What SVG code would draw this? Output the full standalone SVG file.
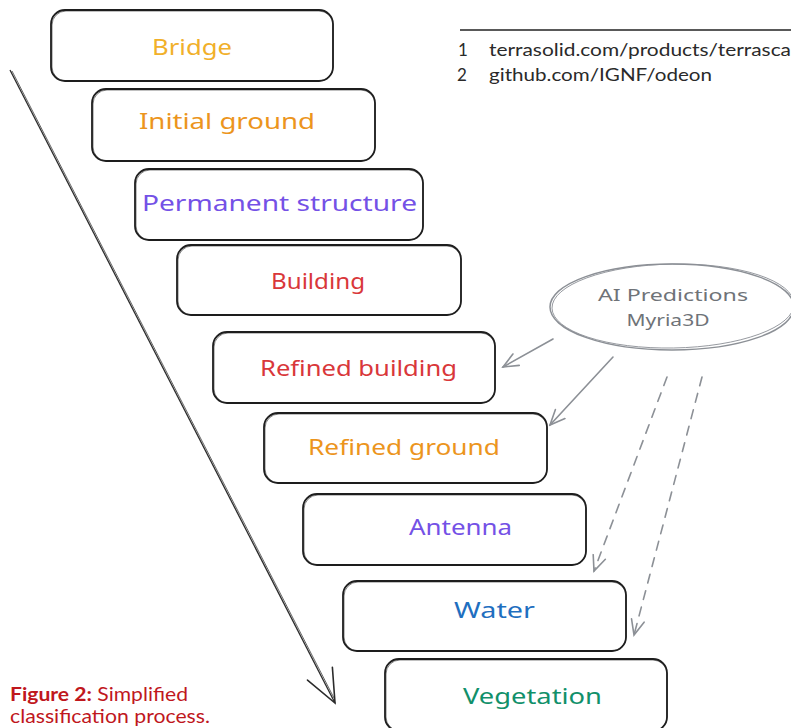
<svg xmlns="http://www.w3.org/2000/svg" width="791" height="728" viewBox="0 0 791 728">
  <style>
    .box { fill: #ffffff; stroke: #1e1e1e; stroke-width: 1.8; }
    .box2 { fill: none; stroke: #1e1e1e; stroke-width: 0.8; opacity: 0.7; }
    .lbl { font-family: "Noto Sans", "DejaVu Sans", sans-serif; font-size: 22px; text-anchor: start; }
    .gray { stroke: #8c9096; stroke-width: 1.6; fill: none; stroke-linecap: round; }
    .dash { stroke-dasharray: 9 8; }
    .note { font-family: Lato, "Liberation Sans", sans-serif; font-size: 17px; fill: #2a2a2a; }
    .cap { font-family: Lato, "Liberation Sans", sans-serif; font-size: 19px; fill: #c0171d; }
  </style>
  <defs>
    <marker id="ga" viewBox="-16 -8 18 16" markerWidth="18" markerHeight="16" refX="0" refY="0" orient="auto" markerUnits="userSpaceOnUse">
      <path d="M -15 -6.5 L 0 0 L -15 6.5" fill="none" stroke="#8c9096" stroke-width="1.6" stroke-linecap="round"/>
    </marker>
    <marker id="ba" viewBox="-36 -16 38 32" markerWidth="38" markerHeight="32" refX="0" refY="0" orient="auto" markerUnits="userSpaceOnUse">
      <path d="M -33 -14 L 0 0 L -33 14" fill="none" stroke="#2b2b2b" stroke-width="1.6" stroke-linecap="round"/>
    </marker>
  </defs>
  <rect width="791" height="728" fill="#ffffff"/>

  <g id="footnotes">
    <line x1="460" y1="30" x2="791" y2="30" stroke="#222" stroke-width="1.3"/>
    <text class="note" x="458" y="56">1</text>
    <text class="note" x="489" y="56" textLength="302" lengthAdjust="spacingAndGlyphs">terrasolid.com/products/terrasca</text>
    <text class="note" x="457" y="81">2</text>
    <text class="note" x="489" y="81" textLength="223" lengthAdjust="spacingAndGlyphs">github.com/IGNF/odeon</text>
  </g>

  <g id="caption">
    <text class="cap" x="10" y="701" textLength="178" lengthAdjust="spacingAndGlyphs"><tspan font-weight="bold">Figure 2:</tspan> Simplified</text>
    <text class="cap" x="10" y="723" textLength="200" lengthAdjust="spacingAndGlyphs">classification process.</text>
  </g>

  <g id="connectors">
    <line x1="10" y1="70" x2="335" y2="703" stroke="#2b2b2b" stroke-width="1.3" marker-end="url(#ba)"/>
    <line x1="12" y1="71" x2="334" y2="698" stroke="#2b2b2b" stroke-width="0.9" opacity="0.8"/>
    <line class="gray" x1="553" y1="339" x2="503" y2="367" marker-end="url(#ga)"/>
    <line class="gray" x1="613" y1="357" x2="550" y2="425" marker-end="url(#ga)"/>
    <line class="gray dash" x1="667" y1="377" x2="594" y2="571" marker-end="url(#ga)"/>
    <line class="gray dash" x1="702" y1="377" x2="634" y2="635" marker-end="url(#ga)"/>
  </g>

  <g id="ai-predictions">
    <ellipse cx="672" cy="307" rx="122" ry="43" fill="none" stroke="#8c9096" stroke-width="1.5"/>
    <ellipse cx="673" cy="306" rx="121" ry="42" fill="none" stroke="#8c9096" stroke-width="0.9" transform="rotate(-1 673 306)"/>
    <text x="673" y="301" font-family="Noto Sans, DejaVu Sans, sans-serif" font-size="17" fill="#6f7378" text-anchor="middle" textLength="150" lengthAdjust="spacingAndGlyphs">AI Predictions</text>
    <text x="668" y="326" font-family="Noto Sans, DejaVu Sans, sans-serif" font-size="17" fill="#6f7378" text-anchor="middle" textLength="83" lengthAdjust="spacingAndGlyphs">Myria3D</text>
  </g>

  <g id="bridge">
    <rect class="box" x="51" y="10" width="282" height="71" rx="14"/>
    <rect class="box2" x="52" y="11" width="281" height="70" rx="14"/>
    <text class="lbl" x="152" y="55" fill="#f1b02a" textLength="80" lengthAdjust="spacingAndGlyphs">Bridge</text>
  </g>
  <g id="initial-ground">
    <rect class="box" x="92" y="89" width="283" height="72" rx="14"/>
    <rect class="box2" x="93" y="90" width="282" height="71" rx="14"/>
    <text class="lbl" x="139" y="129" fill="#ec951d" textLength="176" lengthAdjust="spacingAndGlyphs">Initial ground</text>
  </g>
  <g id="permanent-structure">
    <rect class="box" x="135" y="169" width="288" height="71" rx="14"/>
    <rect class="box2" x="136" y="170" width="287" height="70" rx="14"/>
    <text class="lbl" x="142" y="211" fill="#7451e6" textLength="275" lengthAdjust="spacingAndGlyphs">Permanent structure</text>
  </g>
  <g id="building">
    <rect class="box" x="177" y="245" width="284" height="70" rx="14"/>
    <rect class="box2" x="178" y="246" width="283" height="69" rx="14"/>
    <text class="lbl" x="271" y="289" fill="#d9373a" textLength="94" lengthAdjust="spacingAndGlyphs">Building</text>
  </g>
  <g id="refined-building">
    <rect class="box" x="213" y="332" width="282" height="71" rx="14"/>
    <rect class="box2" x="214" y="333" width="281" height="70" rx="14"/>
    <text class="lbl" x="260" y="376" fill="#d9373a" textLength="197" lengthAdjust="spacingAndGlyphs">Refined building</text>
  </g>
  <g id="refined-ground">
    <rect class="box" x="264" y="413" width="283" height="70" rx="14"/>
    <rect class="box2" x="265" y="414" width="282" height="69" rx="14"/>
    <text class="lbl" x="308" y="455" fill="#ec951d" textLength="192" lengthAdjust="spacingAndGlyphs">Refined ground</text>
  </g>
  <g id="antenna">
    <rect class="box" x="303" y="494" width="283" height="71" rx="14"/>
    <rect class="box2" x="304" y="495" width="282" height="70" rx="14"/>
    <text class="lbl" x="409" y="535" fill="#7451e6" textLength="103" lengthAdjust="spacingAndGlyphs">Antenna</text>
  </g>
  <g id="water">
    <rect class="box" x="343" y="581" width="283" height="70" rx="14"/>
    <rect class="box2" x="344" y="582" width="282" height="69" rx="14"/>
    <text class="lbl" x="454" y="618" fill="#1f6fbf" textLength="81" lengthAdjust="spacingAndGlyphs">Water</text>
  </g>
  <g id="vegetation">
    <rect class="box" x="385" y="659" width="282" height="72" rx="14"/>
    <rect class="box2" x="386" y="660" width="281" height="71" rx="14"/>
    <text class="lbl" x="463" y="704" fill="#11906a" textLength="139" lengthAdjust="spacingAndGlyphs">Vegetation</text>
  </g>
</svg>
